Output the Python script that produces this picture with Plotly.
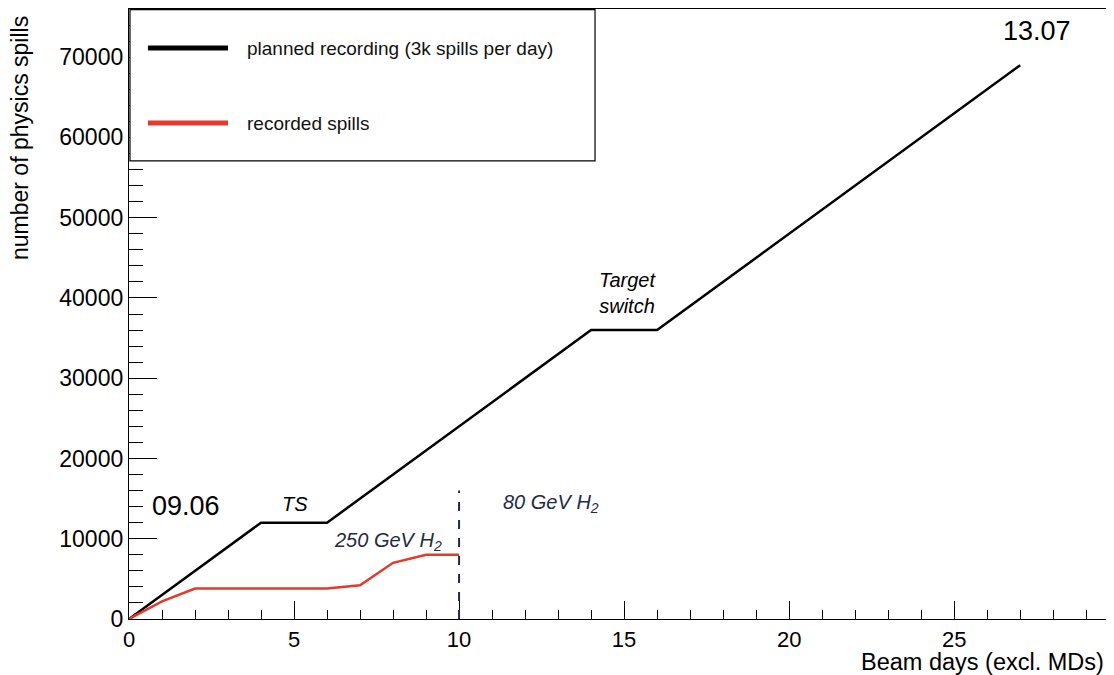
import plotly.graph_objects as go

# data
planned_days = [0, 1, 2, 3, 4, 6, 7, 8, 9, 10, 11, 12, 13, 14, 16, 17, 18, 19, 20, 21, 22, 23, 24, 25, 26, 27]
planned_spills = [0, 3000, 6000, 9000, 12000, 12000, 15000, 18000, 21000, 24000, 27000, 30000, 33000, 36000,
                  36000, 39000, 42000, 45000, 48000, 51000, 54000, 57000, 60000, 63000, 66000, 69000]
recorded_days = [0, 1, 2, 6, 7, 8, 9, 10]
recorded_spills = [0, 2200, 3800, 3800, 4200, 7000, 8000, 8000]

x_ticks = [0, 5, 10, 15, 20, 25]
y_ticks = [0, 10000, 20000, 30000, 40000, 50000, 60000, 70000]
legend_labels = ["planned recording (3k spills per day)", "recorded spills"]
black = "#000000"
red = "#e5392b"
navy = "#1e2b45"
FONT = "Liberation Sans, Arial, Helvetica, sans-serif"

fig = go.Figure()
fig.add_trace(go.Scatter(x=planned_days, y=planned_spills, mode="lines",
                         line=dict(color=black, width=2.5), name=legend_labels[0], showlegend=False))
fig.add_trace(go.Scatter(x=recorded_days, y=recorded_spills, mode="lines",
                         line=dict(color=red, width=2.5), name=legend_labels[1], showlegend=False))

# dashed vertical line at day 10
fig.add_shape(type="line", x0=10, x1=10, y0=0, y1=16000, xref="x", yref="y",
              line=dict(color=navy, width=2, dash="dash"))

# manual legend
fig.add_shape(type="rect", xref="paper", yref="paper", x0=0.001, x1=0.477, y0=0.751, y1=0.999,
              line=dict(color="black", width=1.2), fillcolor="white", layer="above")
fig.add_shape(type="line", xref="paper", yref="paper", x0=0.0194, x1=0.1013, y0=0.936, y1=0.936,
              line=dict(color=black, width=5), layer="above")
fig.add_shape(type="line", xref="paper", yref="paper", x0=0.0194, x1=0.1013, y0=0.813, y1=0.813,
              line=dict(color=red, width=5), layer="above")
for lab, yy in zip(legend_labels, [0.936, 0.813]):
    fig.add_annotation(text=lab, xref="paper", yref="paper", x=0.119, y=yy, xanchor="left",
                       yanchor="middle", showarrow=False, font=dict(family=FONT, size=19, color="#111"))

# text annotations
notes = [
    ("09.06", 1.73, 14070, 27, black),
    ("13.07", 27.5, 73200, 27, black),
    ("<i>TS</i>", 5.03, 14320, 20, black),
    ("<i>Target<br>switch</i>", 15.1, 40600, 20, black),
    ("<i>250 GeV H<sub>2</sub></i>", 7.85, 9710, 20, navy),
    ("<i>80 GeV H<sub>2</sub></i>", 12.8, 14450, 20, navy),
]
for t, x, y, s, c in notes:
    fig.add_annotation(text=t, x=x, y=y, xref="x", yref="y", showarrow=False,
                       font=dict(family=FONT, size=s, color=c))

# axis titles
fig.add_annotation(text="Beam days (excl. MDs)", xref="paper", yref="paper", x=1, y=0,
                   xanchor="right", yanchor="top", yshift=-28, showarrow=False,
                   font=dict(family=FONT, size=23.5, color="black"))
fig.add_annotation(text="number of physics spills", xref="paper", yref="paper", x=0, y=1,
                   xanchor="center", yanchor="top", xshift=-109, yshift=-5, textangle=-90,
                   showarrow=False, font=dict(family=FONT, size=23, color="black"))

fig.update_xaxes(range=[0, 29.6], tickmode="array", tickvals=x_ticks,
                 ticktext=[str(v) for v in x_ticks], automargin=False,
                 ticks="inside", ticklen=18, tickwidth=1.3, tickcolor="black",
                 minor=dict(tickvals=[i for i in range(0, 30) if i % 5], ticks="inside", ticklen=9,
                            tickwidth=1.3, tickcolor="black", showgrid=False),
                 showline=True, linecolor="black", linewidth=1.3, mirror=True, showgrid=False,
                 zeroline=False, tickfont=dict(family=FONT, size=22, color="black"))
fig.update_yaxes(range=[0, 76000], tickmode="array", tickvals=y_ticks,
                 ticktext=[str(v) for v in y_ticks], automargin=False,
                 ticks="inside", ticklen=28, tickwidth=1.3, tickcolor="black",
                 minor=dict(tickvals=[v for v in range(0, 76000, 2000) if v % 10000], ticks="inside",
                            ticklen=14, tickwidth=1.3, tickcolor="black", showgrid=False),
                 showline=True, linecolor="black", linewidth=1.3, mirror=True, showgrid=False,
                 zeroline=False, tickfont=dict(family=FONT, size=23, color="black"))

# page body has an 8px margin, so the figure is 8px smaller than the window
fig.update_layout(width=1106, height=667, margin=dict(l=121, r=8, t=1, b=56),
                  plot_bgcolor="white", paper_bgcolor="white", showlegend=False,
                  font=dict(family=FONT))
fig.write_html("out.html")
